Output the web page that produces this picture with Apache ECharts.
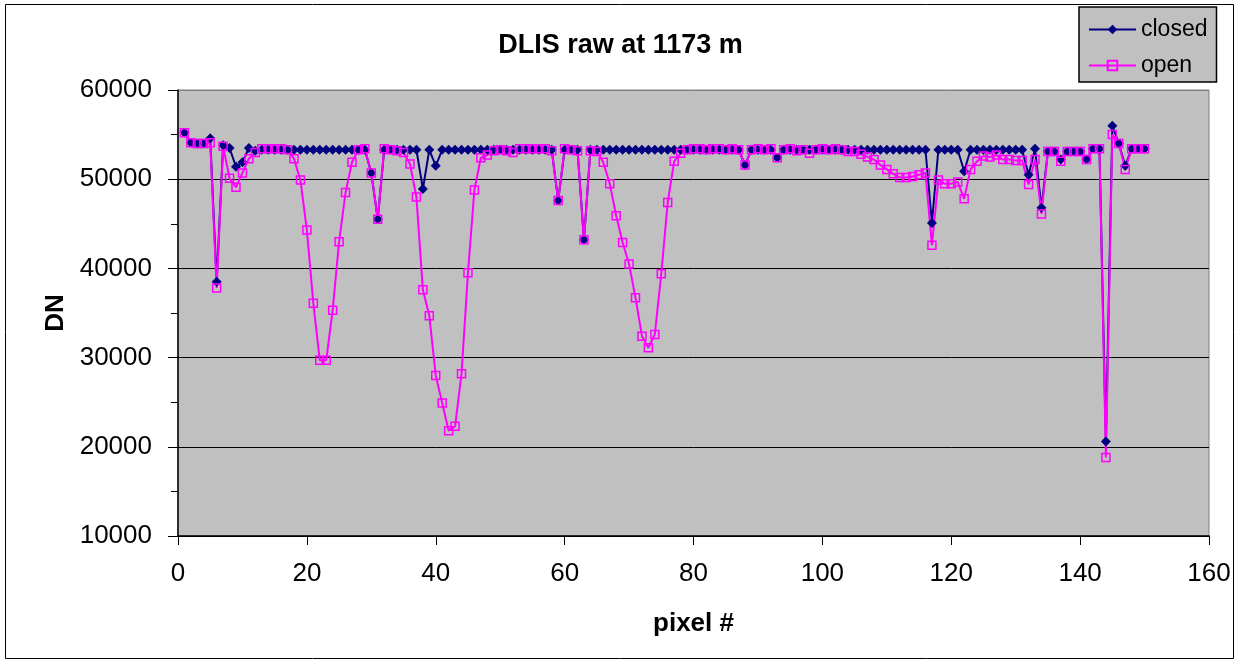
<!DOCTYPE html>
<html>
<head>
<meta charset="utf-8">
<script src="https://cdn.jsdelivr.net/npm/echarts@6/dist/echarts.min.js"></script>
<style>
  html, body { margin: 0; padding: 0; background: #fff; }
  #chart { width: 1241px; height: 663px; }
</style>
</head>
<body>
<div id="chart"></div>
<script>
// ---- data ----
const chartTitle = 'DLIS raw at 1173 m';
const xName = 'pixel #';
const yName = 'DN';
const seriesNames = ['closed', 'open'];

const closed = [
  55200,54100,54000,54000,54600,38500,53800,53500,51400,51900,
  53500,53200,53300,53300,53300,53300,53300,53300,53300,53300,
  53300,53300,53300,53300,53300,53300,53300,53300,53300,50700,
  45500,53300,53300,53300,53300,53300,53300,48900,53300,51500,
  53300,53300,53300,53300,53300,53300,53300,53300,53300,53300,
  53300,53300,53300,53300,53300,53300,53300,53300,47600,53300,
  53300,53300,43200,53300,53300,53300,53300,53300,53300,53300,
  53300,53300,53300,53300,53300,53300,53300,53300,53300,53300,
  53300,53300,53300,53300,53300,53300,53300,51600,53300,53300,
  53300,53300,52400,53300,53300,53300,53300,53300,53300,53300,
  53300,53300,53300,53300,53300,53300,53300,53300,53300,53300,
  53300,53300,53300,53300,53300,53300,45100,53300,53300,53300,
  53300,50900,53300,53300,53300,53300,53300,53300,53300,53300,
  53300,50500,53400,46800,53100,53100,52200,53100,53100,53100,
  52200,53400,53400,20600,56000,54000,51500,53400,53400,53400
];

const open = [
  55200,54100,54000,54000,54100,37800,53700,50100,49100,50700,
  52300,53000,53400,53400,53400,53400,53300,52300,49900,44300,
  36100,29700,29700,35300,43000,48500,51900,53300,53400,50700,
  45500,53400,53300,53200,53000,51700,48000,37600,34700,28000,
  24900,21800,22300,28200,39500,48800,52400,52700,53200,53300,
  53200,53000,53400,53400,53400,53400,53400,53200,47600,53400,
  53300,53200,43200,53200,53100,51900,49500,45900,42900,40500,
  36700,32400,31100,32600,39400,47400,52000,52900,53300,53400,
  53400,53300,53400,53400,53300,53400,53300,51600,53300,53400,
  53300,53400,52400,53300,53400,53200,53300,52900,53300,53400,
  53300,53400,53300,53100,53100,52800,52500,52200,51600,51100,
  50600,50200,50200,50300,50500,50700,42600,49900,49500,49500,
  49700,47800,51100,52000,52600,52500,52700,52200,52200,52100,
  52100,49400,52200,46100,53100,53100,52000,53100,53100,53100,
  52200,53400,53400,18800,55000,54000,51100,53400,53400,53400
];

const xTicks = [0, 20, 40, 60, 80, 100, 120, 140, 160];
const yTicks = [10000, 20000, 30000, 40000, 50000, 60000];

// pixel numbers start at 1
const toPairs = arr => arr.map((v, i) => [i + 1, v]);

const FONT = '"Liberation Sans", Arial, sans-serif';

const chart = echarts.init(document.getElementById('chart'), null, { renderer: 'canvas' });
chart.setOption({
  animation: false,
  backgroundColor: '#ffffff',
  title: {
    text: chartTitle,
    left: 'center',
    top: 32,
    padding: 0,
    textStyle: { fontFamily: FONT, fontSize: 27, fontWeight: 'bold', color: '#000' }
  },
  legend: {
    orient: 'vertical',
    left: 1079,
    top: 7,
    padding: [11, 9, 5, 9],
    itemGap: 13,
    itemWidth: 47,
    itemHeight: 12,
    backgroundColor: '#C0C0C0',
    borderColor: '#000',
    borderWidth: 1.5,
    borderRadius: 0,
    textStyle: { fontFamily: FONT, fontSize: 23, color: '#000' },
    data: seriesNames
  },
  grid: {
    left: 178, right: 32, top: 90, bottom: 127,
    show: true,
    backgroundColor: '#C0C0C0',
    borderColor: '#808080',
    borderWidth: 1
  },
  xAxis: {
    type: 'value',
    min: xTicks[0],
    max: xTicks[xTicks.length - 1],
    interval: 20,
    name: xName,
    nameLocation: 'middle',
    nameGap: 75,
    nameTextStyle: { fontFamily: FONT, fontSize: 26, fontWeight: 'bold', color: '#000' },
    axisLine: { show: true, lineStyle: { color: '#000', width: 1.5 } },
    axisTick: { show: true, inside: false, length: 9, lineStyle: { color: '#000' } },
    axisLabel: { margin: 25, fontFamily: FONT, fontSize: 26, color: '#000', formatter: v => String(v) },
    splitLine: { show: false }
  },
  yAxis: {
    type: 'value',
    min: yTicks[0],
    max: yTicks[yTicks.length - 1],
    interval: 10000,
    name: yName,
    nameLocation: 'middle',
    nameRotate: 90,
    nameGap: 105,
    nameTextStyle: { fontFamily: FONT, fontSize: 26, fontWeight: 'bold', color: '#000' },
    axisLine: { show: true, lineStyle: { color: '#000', width: 1.5 } },
    axisTick: { show: true, inside: false, length: 10, lineStyle: { color: '#000' } },
    minorTick: { show: true, splitNumber: 2, length: 7, lineStyle: { color: '#000' } },
    axisLabel: { margin: 26, fontFamily: FONT, fontSize: 26, color: '#000', formatter: v => String(v) },
    splitLine: {
      show: true,
      lineStyle: { color: ['#000', '#000', '#000', '#000', '#000', '#808080'], width: 1 }
    }
  },
  graphic: [{
    type: 'rect',
    silent: true,
    z: 100,
    shape: { x: 5.5, y: 4.5, width: 1228, height: 654 },
    style: { fill: 'none', stroke: '#000', lineWidth: 1 }
  }],
  series: [
    {
      name: seriesNames[0],
      type: 'line',
      data: toPairs(closed),
      symbol: 'diamond',
      symbolSize: 10,
      showAllSymbol: true,
      itemStyle: { color: '#000080' },
      lineStyle: { color: '#000080', width: 2 }
    },
    {
      name: seriesNames[1],
      type: 'line',
      data: toPairs(open),
      symbol: 'rect',
      symbolSize: 8,
      showAllSymbol: true,
      itemStyle: { color: 'rgba(0,0,0,0)', borderColor: '#FF00FF', borderWidth: 1.5 },
      lineStyle: { color: '#FF00FF', width: 2 }
    }
  ]
});
</script>
</body>
</html>
